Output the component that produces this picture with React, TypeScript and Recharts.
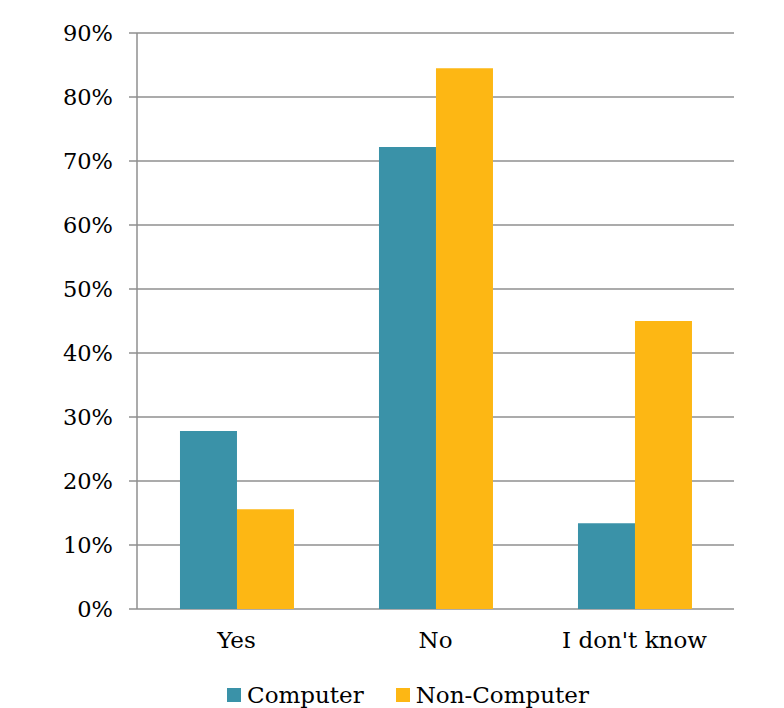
import React from 'react';
import { BarChart, Bar, XAxis, YAxis, CartesianGrid, Legend } from 'recharts';

const categories = ['Yes', 'No', "I don't know"];
const computer = [0.278, 0.722, 0.134];
const nonComputer = [0.156, 0.845, 0.45];
const yTicks = [0, 0.1, 0.2, 0.3, 0.4, 0.5, 0.6, 0.7, 0.8, 0.9];
const edgeTicks = [0, 1, 2, 3];

const SERIES = [
  { key: 'computer', name: 'Computer', color: '#3A92A8' },
  { key: 'nonComputer', name: 'Non-Computer', color: '#FDB714' },
];

const FONT = '"DejaVu Serif", Georgia, serif';
const GRID = '#8f8f8f';

const data = categories.map((name, i) => ({
  name,
  computer: computer[i],
  nonComputer: nonComputer[i],
}));

const LegendContent = () => (
  <div
    style={{
      display: 'flex',
      justifyContent: 'center',
      gap: 32,
      fontFamily: FONT,
      fontSize: 23,
      lineHeight: '26px',
      color: '#000',
      paddingLeft: 82,
    }}
  >
    {SERIES.map((s) => (
      <div key={s.key} style={{ display: 'flex', alignItems: 'center' }}>
        <span style={{ width: 14, height: 14, background: s.color, marginRight: 6 }} />
        <span>{s.name}</span>
      </div>
    ))}
  </div>
);

export default function App() {
  return (
    <div style={{ position: 'absolute', left: 0, top: 0, background: '#fff' }}>
      <BarChart
        width={784}
        height={708}
        data={data}
        margin={{ top: 33, right: 50, left: 0, bottom: 0 }}
        barCategoryGap="21.6%"
        barGap={0}
      >
        <CartesianGrid vertical={false} stroke={GRID} strokeWidth={1.5} xAxisId="cat" />
        <XAxis
          xAxisId="edges"
          type="number"
          domain={[0, 3]}
          ticks={edgeTicks}
          tickFormatter={() => ''}
          tickSize={8}
          height={0}
          stroke={GRID}
          strokeWidth={1.5}
          allowDataOverflow
        />
        <XAxis
          xAxisId="cat"
          dataKey="name"
          axisLine={false}
          tickLine={false}
          height={73}
          tick={{ fill: '#000', fontFamily: FONT, fontSize: 23 }}
          dy={15}
        />
        <YAxis
          domain={[0, 0.9]}
          ticks={yTicks}
          tickFormatter={(v: number) => `${Math.round(v * 100)}%`}
          width={137}
          tickSize={8}
          stroke={GRID}
          strokeWidth={1.5}
          tick={{ fill: '#000', fontFamily: FONT, fontSize: 22.5 }}
          dx={-14}
          interval={0}
        />
        <Legend verticalAlign="bottom" height={26} content={<LegendContent />} />
        {SERIES.map((s) => (
          <Bar
            key={s.key}
            xAxisId="cat"
            dataKey={s.key}
            name={s.name}
            fill={s.color}
            isAnimationActive={false}
          />
        ))}
      </BarChart>
    </div>
  );
}
